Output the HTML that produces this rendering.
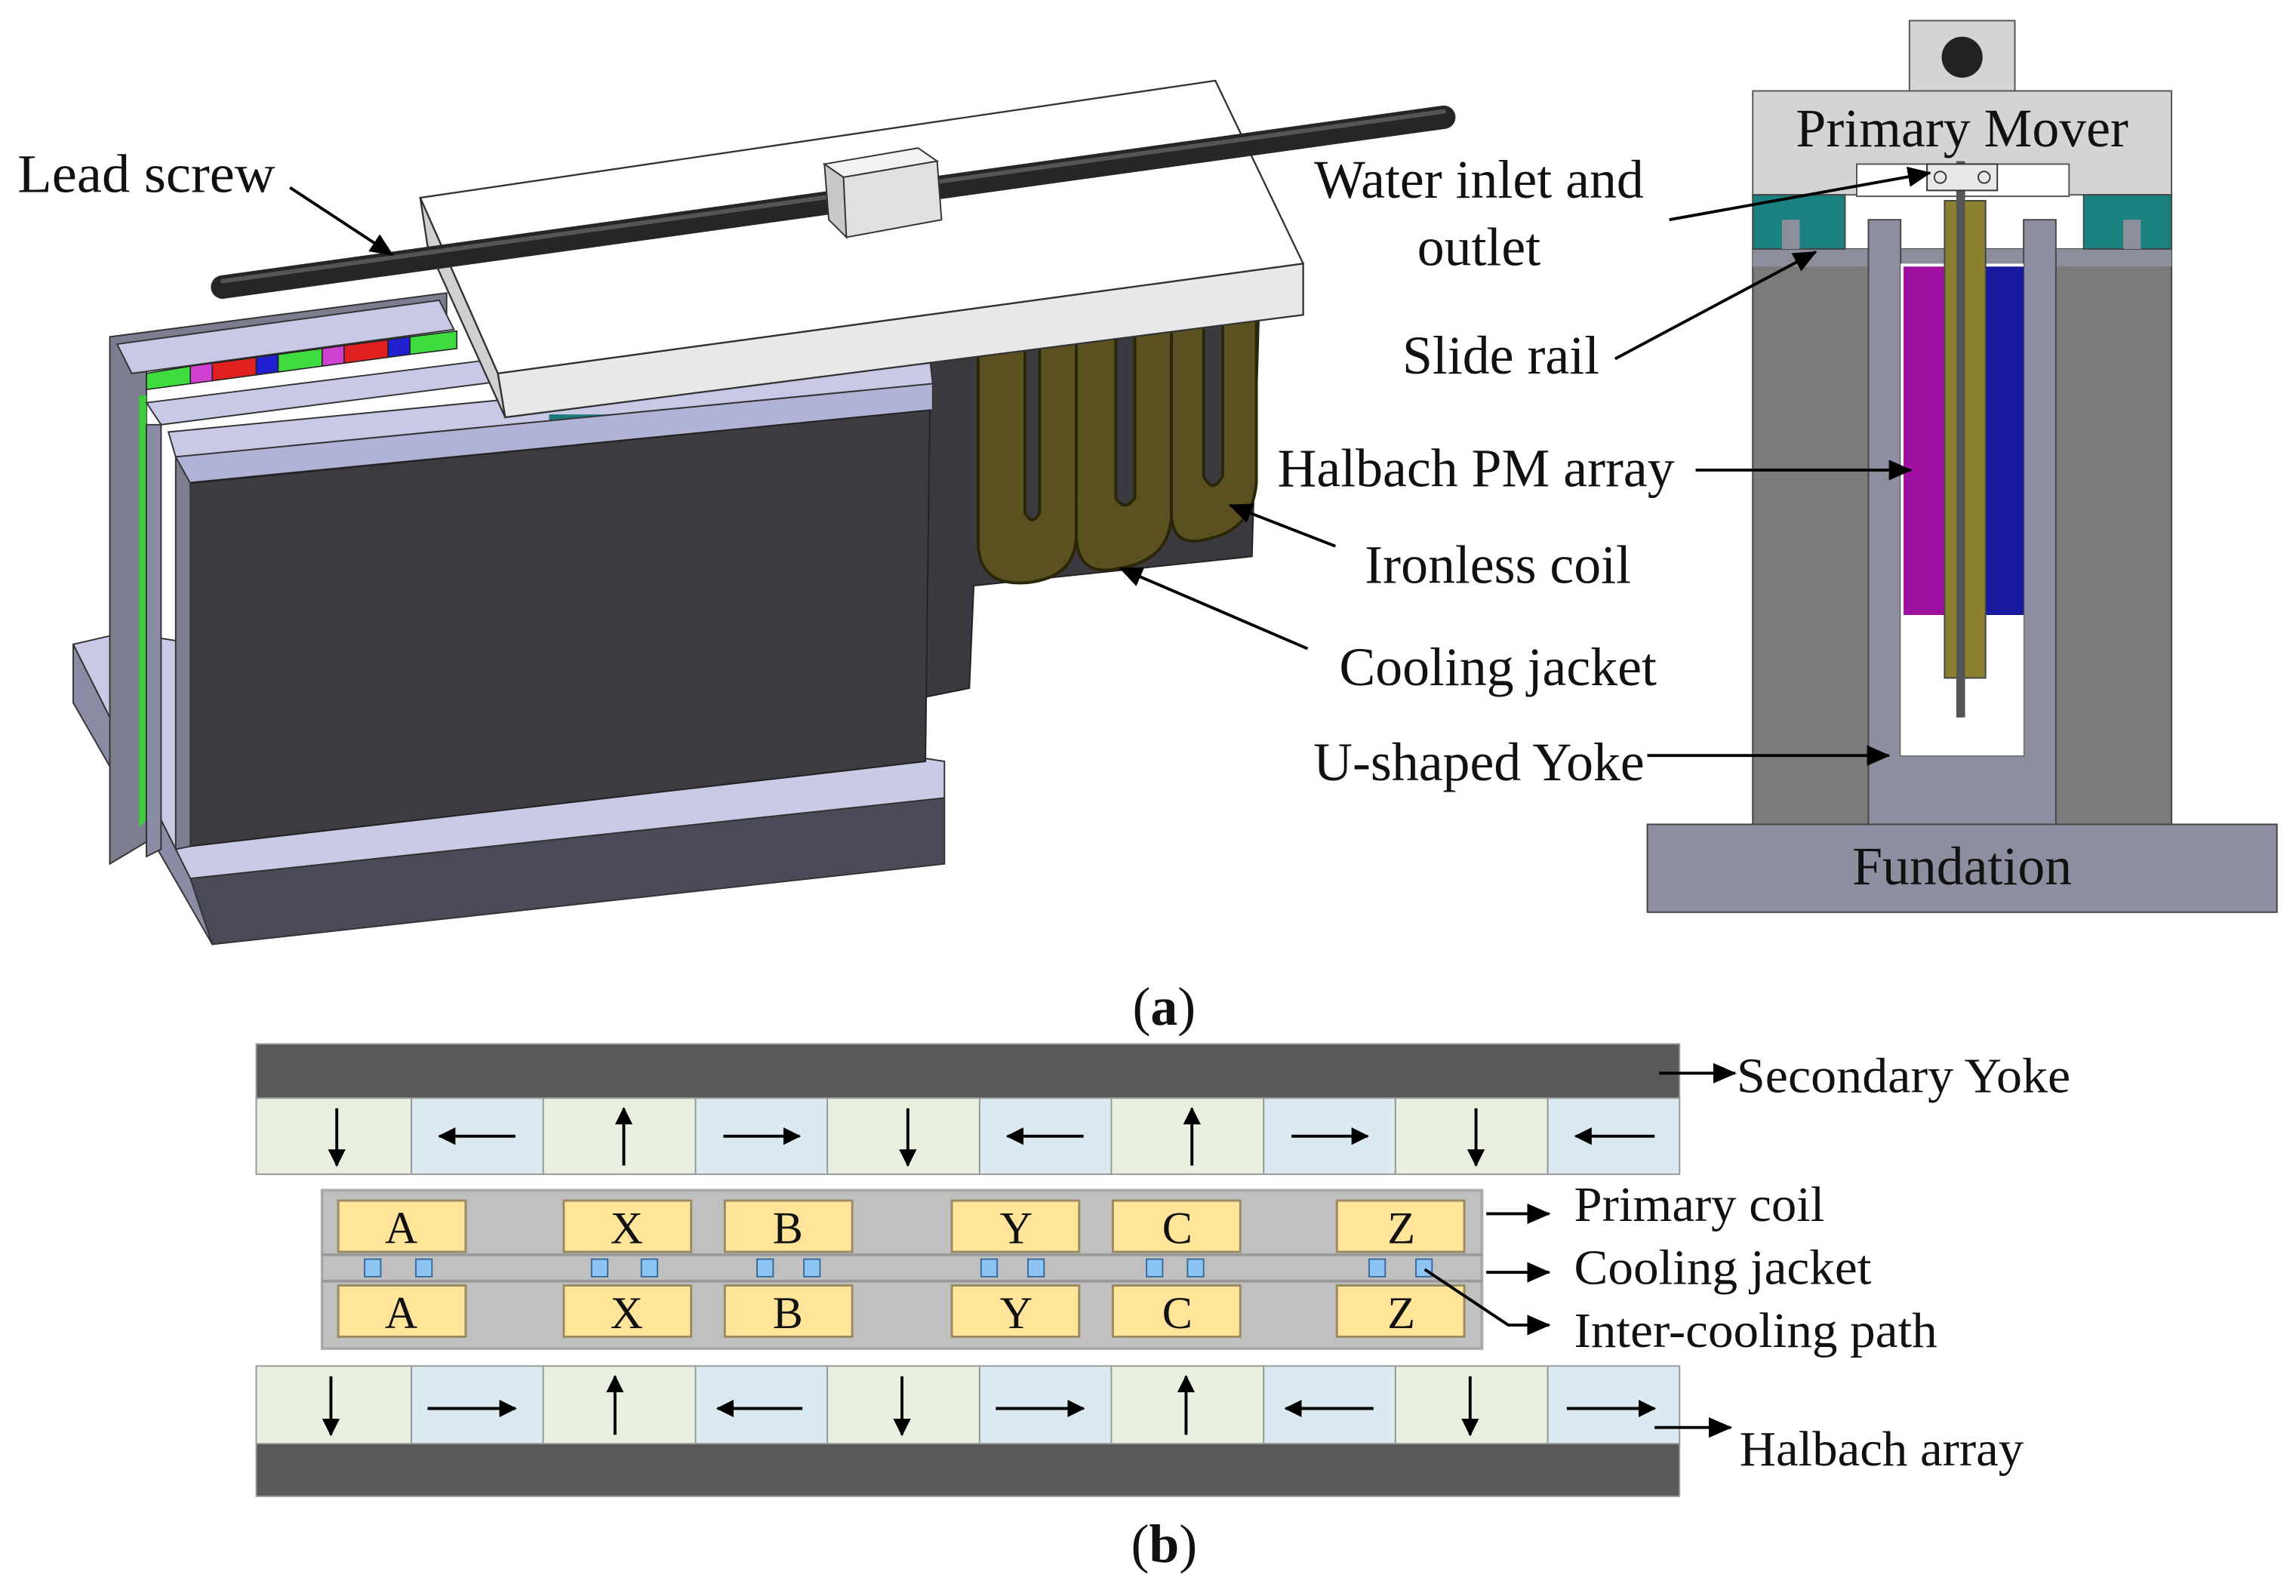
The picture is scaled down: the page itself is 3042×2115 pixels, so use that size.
<!DOCTYPE html>
<html><head><meta charset="utf-8"><style>
html,body{margin:0;padding:0;background:#fff;}
svg{display:block;}
text{font-family:"Liberation Serif",serif;fill:#111;}
</style></head><body>
<svg width="3042" height="2115" viewBox="0 0 1568 1090" xmlns="http://www.w3.org/2000/svg">
<defs>
<marker id="ah" markerWidth="12" markerHeight="12" refX="11" refY="6" orient="auto" markerUnits="userSpaceOnUse"><path d="M0,0 L12,6 L0,12 Z" fill="#000"/></marker>
<marker id="ahs" markerWidth="16" markerHeight="14" refX="15" refY="7" orient="auto" markerUnits="userSpaceOnUse"><path d="M0,0 L16,7 L0,14 Z" fill="#000"/></marker>
</defs>
<rect width="1568" height="1090" fill="#fff"/>

<!-- base -->
<polygon points="50,440 85,432 645,520 645,545 130,600" fill="#c9cbe6" stroke="#333" stroke-width="1"/>
<polygon points="50,440 130,600 145,645 50,480" fill="#8a8ca6" stroke="#333" stroke-width="1"/>
<polygon points="130,600 645,545 645,590 145,645" fill="#4a4a58" stroke="#333" stroke-width="1"/>
<polygon points="632,245 860,210 855,380 665,400 662,470 632,476" fill="#3b3a40" stroke="#222" stroke-width="1"/>
<g fill="#5a5020" stroke="#2a2608" stroke-width="2">
<path d="M668,230 L668,370 Q668,400 700,398 Q735,395 735,365 L735,225 L710,228 L710,350 Q705,360 700,350 L700,228 Z"/>
<path d="M735,225 L735,365 Q735,395 765,388 Q800,382 800,350 L800,215 L775,218 L775,340 Q768,350 762,340 L762,222 Z"/>
<path d="M800,215 L800,350 Q800,375 825,368 Q855,362 858,330 L858,210 L835,213 L835,325 Q828,338 822,325 L822,213 Z"/>
</g>
<polygon points="75,230 305,200 305,215 100,245 100,575 75,590" fill="#7c7e90" stroke="#333" stroke-width="1"/>
<polygon points="80,235 300,205 310,225 90,255" fill="#c7c9e6" stroke="#333" stroke-width="1"/>
<polygon points="95,270 100,270 100,560 95,565" fill="#3ccc3c"/>
<g stroke="#222" stroke-width="0.8">
<polygon points="100,255 130,250 130,262 100,266" fill="#3fdc3f"/>
<polygon points="130,250 145,248 145,260 130,262" fill="#d040d0"/>
<polygon points="145,248 175,244 175,256 145,260" fill="#e02020"/>
<polygon points="175,244 190,242 190,254 175,256" fill="#2020d0"/>
<polygon points="190,242 220,238 220,250 190,254" fill="#3fdc3f"/>
<polygon points="220,238 235,236 235,248 220,250" fill="#d040d0"/>
<polygon points="235,236 265,232 265,244 235,248" fill="#e02020"/>
<polygon points="265,232 280,230 280,242 265,244" fill="#2020d0"/>
<polygon points="280,230 312,226 312,238 280,242" fill="#3fdc3f"/>
</g>
<polygon points="100,275 340,245 345,260 110,290" fill="#c7c9e6" stroke="#333" stroke-width="1"/>
<polygon points="100,290 110,290 110,580 100,585" fill="#8a8ca6" stroke="#333" stroke-width="1"/>
<polygon points="115,295 635,245 637,262 120,312" fill="#c7c9e6" stroke="#333" stroke-width="1"/>
<rect x="375" y="283" width="55" height="20" fill="#1a7a7a"/>
<polygon points="120,312 637,262 637,280 125,330" fill="#b0b3d6" stroke="#333" stroke-width="1"/>
<polygon points="130,330 635,280 632,520 130,578" fill="#3e3b40" stroke="#222" stroke-width="1"/>
<polygon points="120,312 130,330 130,578 120,580" fill="#7c7e90" stroke="#333" stroke-width="1"/>
<polygon points="287,135 830,55 890,180 340,255" fill="#fff" stroke="#333" stroke-width="1.2"/>
<polygon points="340,255 890,180 890,215 345,285" fill="#e8e8e8" stroke="#333" stroke-width="1.2"/>
<polygon points="287,135 340,255 345,285 292,168" fill="#d0d0d0" stroke="#333" stroke-width="1.2"/>
<line x1="152" y1="196" x2="986" y2="80" stroke="#262626" stroke-width="16" stroke-linecap="round"/>
<line x1="152" y1="192" x2="986" y2="76" stroke="#555" stroke-width="3" stroke-linecap="round"/>
<polygon points="563,112 627,101 640,110 576,121" fill="#f2f2f2" stroke="#333"/>
<polygon points="576,121 640,110 643,150 578,162" fill="#e0e0e0" stroke="#333"/>
<polygon points="563,112 576,121 578,162 566,150" fill="#c8c8c8" stroke="#333"/>

<!-- cross-section -->
<rect x="1304" y="14" width="72" height="48" fill="#d4d4d4" stroke="#555"/>
<circle cx="1340" cy="39" r="14" fill="#222"/>
<rect x="1197" y="62" width="286" height="71" fill="#d4d4d4" stroke="#555"/>
<rect x="1268" y="112" width="145" height="22" fill="#fff" stroke="#555"/>
<rect x="1197" y="170" width="286" height="393" fill="#7b7b7b" stroke="#444"/>
<rect x="1197" y="170" width="286" height="12" fill="#8c8e9c"/>
<rect x="1197" y="133" width="63" height="37" fill="#1b8080" stroke="#444"/>
<rect x="1423" y="133" width="60" height="37" fill="#1b8080" stroke="#444"/>
<rect x="1217" y="150" width="12" height="20" fill="#8c8e9c"/>
<rect x="1450" y="150" width="12" height="20" fill="#8c8e9c"/>
<path d="M1276,150 L1298,150 L1298,516 L1382,516 L1382,150 L1404,150 L1404,563 L1276,563 Z" fill="#8d8fa0" stroke="#444"/>
<rect x="1298" y="180" width="84" height="336" fill="#fff"/>
<rect x="1300" y="182" width="28" height="238" fill="#a010a0"/>
<rect x="1356" y="182" width="26" height="238" fill="#1a1aa0"/>
<rect x="1328" y="137" width="28" height="326" fill="#8a8030" stroke="#444"/>
<rect x="1336" y="110" width="6" height="380" fill="#555"/>
<rect x="1316" y="112" width="48" height="18" fill="#e8e8e8" stroke="#333"/>
<circle cx="1325" cy="121" r="4" fill="none" stroke="#333"/>
<circle cx="1355" cy="121" r="4" fill="none" stroke="#333"/>
<rect x="1125" y="563" width="430" height="60" fill="#8d8fa0" stroke="#444"/>

<g font-size="37">
<text x="12" y="131" textLength="176" lengthAdjust="spacingAndGlyphs">Lead screw</text>
<text x="1340" y="100" text-anchor="middle">Primary Mover</text>
<text x="1010" y="135" text-anchor="middle">Water inlet and</text>
<text x="1010" y="181" text-anchor="middle">outlet</text>
<text x="1025" y="255" text-anchor="middle">Slide rail</text>
<text x="1008" y="332" text-anchor="middle">Halbach PM array</text>
<text x="1023" y="398" text-anchor="middle">Ironless coil</text>
<text x="1023" y="468" text-anchor="middle">Cooling jacket</text>
<text x="1010" y="533" text-anchor="middle">U-shaped Yoke</text>
<text x="1340" y="604" text-anchor="middle">Fundation</text>
<text x="795" y="700" text-anchor="middle">(<tspan font-weight="bold">a</tspan>)</text>
<text x="795" y="1067" text-anchor="middle">(<tspan font-weight="bold">b</tspan>)</text>
</g>
<g stroke="#000" stroke-width="2" fill="none" marker-end="url(#ahs)">
<line x1="198" y1="128" x2="268" y2="174"/>
<line x1="1140" y1="150" x2="1318" y2="118"/>
<line x1="1103" y1="245" x2="1240" y2="172"/>
<line x1="1158" y1="321" x2="1305" y2="321"/>
<line x1="912" y1="373" x2="840" y2="345"/>
<line x1="893" y1="443" x2="765" y2="388"/>
<line x1="1125" y1="516" x2="1290" y2="516"/>
</g>

<!-- (b) -->
<rect x="175" y="713" width="972" height="37" fill="#595959" stroke="#999"/>
<rect x="175" y="986" width="972" height="36" fill="#595959" stroke="#999"/>
<g stroke="#999" stroke-width="1">
<rect x="175" y="750" width="106" height="52" fill="#eaf0df"/><rect x="281" y="750" width="90" height="52" fill="#daeaf0"/>
<rect x="371" y="750" width="104" height="52" fill="#eaf0df"/><rect x="475" y="750" width="90" height="52" fill="#daeaf0"/>
<rect x="565" y="750" width="104" height="52" fill="#eaf0df"/><rect x="669" y="750" width="90" height="52" fill="#daeaf0"/>
<rect x="759" y="750" width="104" height="52" fill="#eaf0df"/><rect x="863" y="750" width="90" height="52" fill="#daeaf0"/>
<rect x="953" y="750" width="104" height="52" fill="#eaf0df"/><rect x="1057" y="750" width="90" height="52" fill="#daeaf0"/>
<rect x="175" y="933" width="106" height="53" fill="#eaf0df"/><rect x="281" y="933" width="90" height="53" fill="#daeaf0"/>
<rect x="371" y="933" width="104" height="53" fill="#eaf0df"/><rect x="475" y="933" width="90" height="53" fill="#daeaf0"/>
<rect x="565" y="933" width="104" height="53" fill="#eaf0df"/><rect x="669" y="933" width="90" height="53" fill="#daeaf0"/>
<rect x="759" y="933" width="104" height="53" fill="#eaf0df"/><rect x="863" y="933" width="90" height="53" fill="#daeaf0"/>
<rect x="953" y="933" width="104" height="53" fill="#eaf0df"/><rect x="1057" y="933" width="90" height="53" fill="#daeaf0"/>
</g>
<g stroke="#000" stroke-width="2" marker-end="url(#ah)">
<line x1="230" y1="757" x2="230" y2="796"/>
<line x1="352" y1="776" x2="300" y2="776"/>
<line x1="426" y1="796" x2="426" y2="757"/>
<line x1="494" y1="776" x2="546" y2="776"/>
<line x1="620" y1="757" x2="620" y2="796"/>
<line x1="740" y1="776" x2="688" y2="776"/>
<line x1="814" y1="796" x2="814" y2="757"/>
<line x1="882" y1="776" x2="934" y2="776"/>
<line x1="1008" y1="757" x2="1008" y2="796"/>
<line x1="1130" y1="776" x2="1076" y2="776"/>
<line x1="226" y1="940" x2="226" y2="980"/>
<line x1="292" y1="962" x2="352" y2="962"/>
<line x1="420" y1="980" x2="420" y2="940"/>
<line x1="548" y1="962" x2="490" y2="962"/>
<line x1="616" y1="940" x2="616" y2="980"/>
<line x1="680" y1="962" x2="740" y2="962"/>
<line x1="810" y1="980" x2="810" y2="940"/>
<line x1="938" y1="962" x2="878" y2="962"/>
<line x1="1004" y1="940" x2="1004" y2="980"/>
<line x1="1070" y1="962" x2="1130" y2="962"/>
</g>
<rect x="220" y="813" width="792" height="108" fill="#c0c0c0" stroke="#aaa" stroke-width="2"/>
<line x1="220" y1="857" x2="1012" y2="857" stroke="#999" stroke-width="2"/>
<line x1="220" y1="875" x2="1012" y2="875" stroke="#999" stroke-width="2"/>
<g fill="#ffe49a" stroke="#9a8a60" stroke-width="1.5">
<rect x="231" y="820" width="87" height="35"/><rect x="385" y="820" width="87" height="35"/><rect x="495" y="820" width="87" height="35"/>
<rect x="650" y="820" width="87" height="35"/><rect x="760" y="820" width="87" height="35"/><rect x="913" y="820" width="87" height="35"/>
<rect x="231" y="878" width="87" height="35"/><rect x="385" y="878" width="87" height="35"/><rect x="495" y="878" width="87" height="35"/>
<rect x="650" y="878" width="87" height="35"/><rect x="760" y="878" width="87" height="35"/><rect x="913" y="878" width="87" height="35"/>
</g>
<g fill="#8cc4f4" stroke="#3a6a9a" stroke-width="1">
<rect x="249" y="860" width="11" height="12"/><rect x="284" y="860" width="11" height="12"/>
<rect x="404" y="860" width="11" height="12"/><rect x="438" y="860" width="11" height="12"/>
<rect x="517" y="860" width="11" height="12"/><rect x="549" y="860" width="11" height="12"/>
<rect x="670" y="860" width="11" height="12"/><rect x="702" y="860" width="11" height="12"/>
<rect x="783" y="860" width="11" height="12"/><rect x="811" y="860" width="11" height="12"/>
<rect x="935" y="860" width="11" height="12"/><rect x="967" y="860" width="11" height="12"/>
</g>
<g font-size="31" text-anchor="middle">
<text x="274" y="849">A</text><text x="428" y="849">X</text><text x="538" y="849">B</text>
<text x="694" y="849">Y</text><text x="804" y="849">C</text><text x="957" y="849">Z</text>
<text x="274" y="907">A</text><text x="428" y="907">X</text><text x="538" y="907">B</text>
<text x="694" y="907">Y</text><text x="804" y="907">C</text><text x="957" y="907">Z</text>
</g>
<g font-size="34">
<text x="1186" y="746" textLength="228" lengthAdjust="spacingAndGlyphs">Secondary Yoke</text>
<text x="1075" y="834" textLength="171" lengthAdjust="spacingAndGlyphs">Primary coil</text>
<text x="1075" y="877" textLength="203" lengthAdjust="spacingAndGlyphs">Cooling jacket</text>
<text x="1075" y="920" textLength="248" lengthAdjust="spacingAndGlyphs">Inter-cooling path</text>
<text x="1188" y="1001" textLength="194" lengthAdjust="spacingAndGlyphs">Halbach array</text>
</g>
<g stroke="#000" stroke-width="2" fill="none" marker-end="url(#ahs)">
<line x1="1133" y1="733" x2="1185" y2="733"/>
<line x1="1015" y1="829" x2="1058" y2="829"/>
<line x1="1015" y1="869" x2="1058" y2="869"/>
<polyline points="973,867 1030,905 1058,905"/>
<line x1="1130" y1="975" x2="1182" y2="975"/>
</g>
</svg>
</body></html>
